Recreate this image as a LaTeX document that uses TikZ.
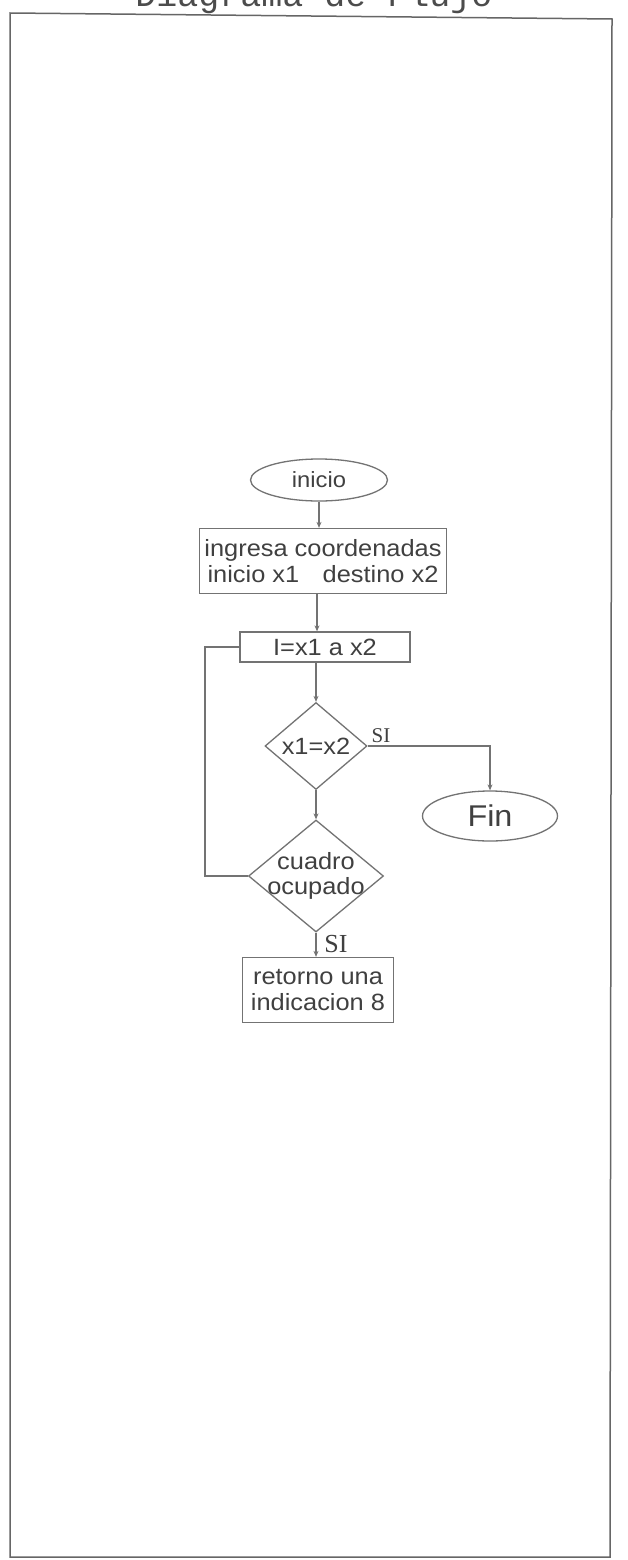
\documentclass[tikz,border=0pt]{standalone}
\usepackage{fontspec}
\setmainfont{Liberation Sans}[FakeStretch=1.08]
\newfontfamily\serifsi{Liberation Serif}
\newfontfamily\monotitle{Liberation Mono}
\usetikzlibrary{shapes.geometric,arrows.meta}
\begin{document}
\begin{tikzpicture}[x=1pt,y=-1pt,
  ln/.style={draw=black!55, line width=1.3pt},
  arr/.style={ln, -{Stealth[length=6pt,width=5pt]}},
  shp/.style={draw=black!55, line width=1.3pt, text=black!75, align=center, inner sep=0pt},
  stepbox/.style={shp, rectangle, font=\fontsize{23.5}{26}\selectfont},
  term/.style={shp, ellipse},
  dia/.style={shp, diamond, aspect=1.2, inner sep=-8pt, font=\fontsize{23.5}{25}\selectfont},
  silabel/.style={text=black!75, inner sep=0pt}
]
\useasboundingbox (0,0) rectangle (628,1560);
\fill[white] (0,0) rectangle (628,1560);
\node[font=\monotitle\fontsize{35}{35}\selectfont, anchor=base, text=black!70] (title) at (314,7) {Diagrama de Flujo};
\draw[black!60, line width=1.5pt] (10,13) -- (612,19) -- (610,1557) -- (10,1557) -- cycle;

\coordinate (ax) at (317,0);
\node[term, minimum width=137, minimum height=42, font=\fontsize{22}{22}\selectfont] (inicio) at (319,480) {inicio};
\node[stepbox, minimum width=247, minimum height=65] (ingresa) at (323,561) {ingresa coordenadas\\inicio x1\quad destino x2};
\node[stepbox, minimum width=170, minimum height=30] (asig) at (325,647) {I=x1 a x2};
\node[dia, minimum width=102, minimum height=87] (cmp) at (316,746) {x1=x2};
\node[dia, minimum width=135, minimum height=112] (cuadro) at (316,876) {cuadro\\ocupado};
\node[term, minimum width=135, minimum height=50, font=\fontsize{30}{30}\selectfont] (fin) at (490,816) {Fin};
\node[stepbox, minimum width=151, minimum height=65] (ret) at (318,990) {retorno una\\indicacion 8};
\node[silabel, font=\serifsi\fontsize{21}{21}\selectfont] (si1) at (381,736) {SI};
\node[silabel, font=\serifsi\fontsize{26}{26}\selectfont] (si2) at (336,944) {SI};
\coordinate (loop) at (205,760);

\draw[arr] (inicio.south) -- (inicio.south |- ingresa.north);
\draw[arr] (ingresa.south -| ax) -- (asig.north -| ax);
\draw[arr] (asig.south -| cmp.north) -- (cmp.north);
\draw[arr] (cmp.south) -- (cuadro.north);
\draw[arr] (cuadro.south) -- (cuadro.south |- ret.north);
\draw[arr] (cmp.east) -| (fin.north);
\draw[ln] (cuadro.west) -| (loop) |- (asig.west);
\end{tikzpicture}
\end{document}
